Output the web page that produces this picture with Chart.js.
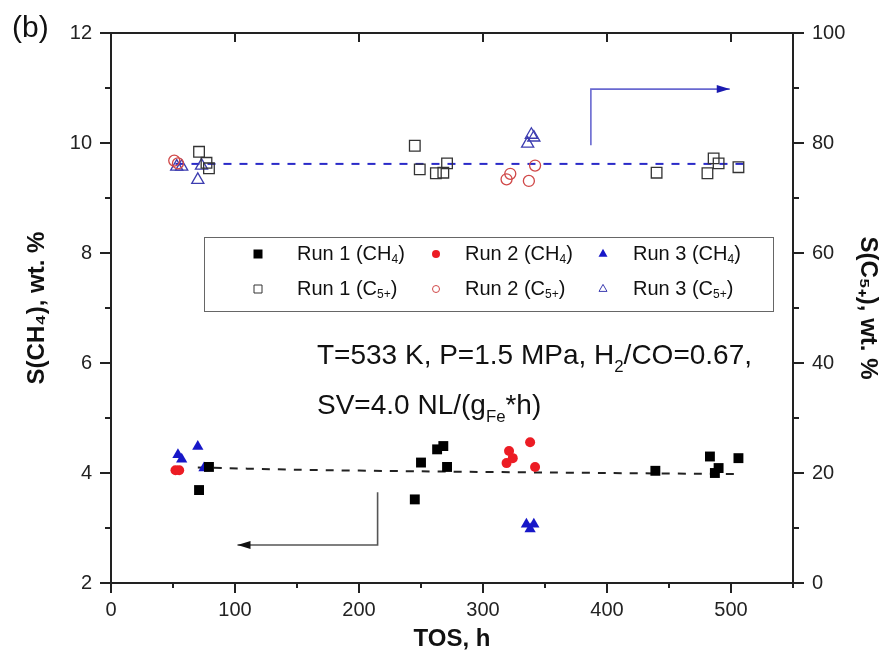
<!DOCTYPE html>
<html>
<head>
<meta charset="utf-8">
<script src="https://cdn.jsdelivr.net/npm/chart.js@4.4.1/dist/chart.umd.min.js"></script>
<style>
  body { margin: 0; background: #fff; }
</style>
</head>
<body>
<canvas id="chart" width="890" height="669"></canvas>
<script>
const FONT = '"Liberation Sans", Arial, sans-serif';

// TOS (h) and selectivity
// CH4 selectivity, wt.% (left axis)
const run1ChTos = [71, 79, 245, 250, 263, 268, 271, 439, 483, 487, 490, 506];
const run1Ch4   = [3.69, 4.11, 3.52, 4.19, 4.43, 4.49, 4.11, 4.04, 4.30, 4.00, 4.09, 4.27];
const run2ChTos = [52, 55, 319, 321, 324, 338, 342];
const run2Ch4   = [4.05, 4.05, 4.18, 4.40, 4.27, 4.56, 4.11];
const run3ChTos = [54, 57, 70, 75, 335, 338, 341];
const run3Ch4   = [4.33, 4.25, 4.48, 4.09, 3.07, 2.98, 3.07];

// C5+ selectivity, wt.% (right axis)
const run1C5Tos = [71, 77, 79, 245, 249, 262, 268, 271, 440, 481, 486, 490, 506];
const run1C5    = [78.4, 76.4, 75.4, 79.5, 75.2, 74.5, 74.6, 76.3, 74.6, 74.5, 77.2, 76.3, 75.6];
const run2C5Tos = [51, 54, 319, 322, 337, 342];
const run2C5    = [76.8, 76.3, 73.4, 74.4, 73.1, 75.9];
const run3C5Tos = [53, 57, 70, 73, 336, 339, 341];
const run3C5    = [75.7, 75.7, 73.3, 75.9, 79.9, 81.5, 81.0];

// dashed trend lines
const ch4FitTos = [70, 150, 250, 400, 505];
const ch4Fit    = [4.10, 4.06, 4.03, 4.00, 3.98];
const c5FitTos  = [52, 510];
const c5Fit     = [76.2, 76.2];

const pts = (xs, ys) => xs.map((x, i) => ({ x: x, y: ys[i] }));

const datasets = [
  { label: 'Run 1 (CH4)', data: pts(run1ChTos, run1Ch4), yAxisID: 'y',
    pointStyle: 'rect', pointRadius: 7, backgroundColor: '#000', borderColor: '#000', borderWidth: 0 },
  { label: 'Run 2 (CH4)', data: pts(run2ChTos, run2Ch4), yAxisID: 'y',
    pointStyle: 'circle', pointRadius: 5, backgroundColor: '#ec1c24', borderColor: '#ec1c24', borderWidth: 0 },
  { label: 'Run 3 (CH4)', data: pts(run3ChTos, run3Ch4), yAxisID: 'y',
    pointStyle: 'triangle', pointRadius: 6.5, backgroundColor: '#1717c8', borderColor: '#1717c8', borderWidth: 0 },
  { label: 'Run 1 (C5+)', data: pts(run1C5Tos, run1C5), yAxisID: 'y2',
    pointStyle: 'rect', pointRadius: 7.5, backgroundColor: 'rgba(0,0,0,0)', borderColor: '#333', borderWidth: 1.3 },
  { label: 'Run 2 (C5+)', data: pts(run2C5Tos, run2C5), yAxisID: 'y2',
    pointStyle: 'circle', pointRadius: 5.5, backgroundColor: 'rgba(0,0,0,0)', borderColor: '#d04848', borderWidth: 1.3 },
  { label: 'Run 3 (C5+)', data: pts(run3C5Tos, run3C5), yAxisID: 'y2',
    pointStyle: 'triangle', pointRadius: 7, backgroundColor: 'rgba(0,0,0,0)', borderColor: '#3c3cb0', borderWidth: 1.3 },
  { label: 'fit CH4', data: pts(ch4FitTos, ch4Fit), yAxisID: 'y', showLine: true, tension: 0.3,
    pointRadius: 0, borderColor: '#222', borderWidth: 2, borderDash: [8, 8] },
  { label: 'fit C5', data: pts(c5FitTos, c5Fit), yAxisID: 'y2', showLine: true,
    pointRadius: 0, borderColor: '#2a2ac8', borderWidth: 2, borderDash: [8, 8] }
];

// legend rows: [dataset index, text before subscript, subscript, text after]
const legendItems = [
  [0, 'Run 1 (CH', '4', ')'], [1, 'Run 2 (CH', '4', ')'], [2, 'Run 3 (CH', '4', ')'],
  [3, 'Run 1 (C', '5+', ')'], [4, 'Run 2 (C', '5+', ')'], [5, 'Run 3 (C', '5+', ')']
];

function rich(ctx, parts, x, y, size) {
  parts.forEach(p => {
    const s = p[1] ? size * 0.6 : size;
    ctx.font = s + 'px ' + FONT;
    ctx.fillText(p[0], x, y + (p[1] ? size * 0.3 : 0));
    x += ctx.measureText(p[0]).width;
  });
}

function marker(ctx, style, x, y, r, fill, stroke, lw) {
  ctx.beginPath();
  if (style === 'rect') {
    ctx.rect(x - r, y - r, 2 * r, 2 * r);
  } else if (style === 'circle') {
    ctx.arc(x, y, r, 0, Math.PI * 2);
  } else {
    ctx.moveTo(x, y - r * 1.15);
    ctx.lineTo(x + r, y + r * 0.6);
    ctx.lineTo(x - r, y + r * 0.6);
    ctx.closePath();
  }
  if (fill) { ctx.fillStyle = fill; ctx.fill(); }
  if (stroke) { ctx.strokeStyle = stroke; ctx.lineWidth = lw; ctx.stroke(); }
}

function arrow(ctx, x, y, path, lineColor, headColor) {
  const p = path.map(q => [x.getPixelForValue(q[0]), y.getPixelForValue(q[1])]);
  ctx.strokeStyle = lineColor;
  ctx.lineWidth = 1.6;
  ctx.beginPath();
  ctx.moveTo(p[0][0], p[0][1]);
  p.slice(1).forEach(q => ctx.lineTo(q[0], q[1]));
  ctx.stroke();
  const a = p[p.length - 2], b = p[p.length - 1];
  const ang = Math.atan2(b[1] - a[1], b[0] - a[0]);
  ctx.fillStyle = headColor;
  ctx.beginPath();
  ctx.moveTo(b[0], b[1]);
  ctx.lineTo(b[0] - 13 * Math.cos(ang) - 4 * Math.sin(ang), b[1] - 13 * Math.sin(ang) + 4 * Math.cos(ang));
  ctx.lineTo(b[0] - 13 * Math.cos(ang) + 4 * Math.sin(ang), b[1] - 13 * Math.sin(ang) - 4 * Math.cos(ang));
  ctx.closePath();
  ctx.fill();
}

const extras = {
  id: 'extras',
  afterDraw(chart) {
    const ctx = chart.ctx;
    const a = chart.chartArea;
    const x = chart.scales.x, y = chart.scales.y, y2 = chart.scales.y2;
    const mids = s => s.ticks.slice(1).map((t, i) => (t.value + s.ticks[i].value) / 2);
    ctx.save();
    ctx.strokeStyle = '#222';
    ctx.lineWidth = 2;
    ctx.beginPath();
    ctx.moveTo(a.left, a.top);
    ctx.lineTo(a.right, a.top);
    // top ticks point inward
    x.ticks.forEach(t => {
      const px = x.getPixelForValue(t.value);
      ctx.moveTo(px, a.top); ctx.lineTo(px, a.top + 9);
    });
    // minor ticks
    mids(x).concat([x.ticks[x.ticks.length - 1].value + 50]).forEach(v => {
      const px = x.getPixelForValue(v);
      ctx.moveTo(px, a.bottom); ctx.lineTo(px, a.bottom + 5);
    });
    mids(y).forEach(v => {
      const py = y.getPixelForValue(v);
      ctx.moveTo(a.left - 6, py); ctx.lineTo(a.left, py);
    });
    mids(y2).forEach(v => {
      const py = y2.getPixelForValue(v);
      ctx.moveTo(a.right, py); ctx.lineTo(a.right + 6, py);
    });
    ctx.stroke();

    // panel label
    ctx.fillStyle = '#111';
    ctx.font = '30px ' + FONT;
    ctx.textBaseline = 'alphabetic';
    ctx.fillText('(b)', 12, 37);

    // legend box
    ctx.strokeStyle = '#666';
    ctx.lineWidth = 1;
    ctx.strokeRect(204.5, 237.5, 569, 74);
    const colX = [258, 436, 603], txtX = [297, 465, 633], rowY = [254, 289];
    legendItems.forEach((it, i) => {
      const ds = chart.data.datasets[it[0]];
      const cx = colX[i % 3], cy = rowY[Math.floor(i / 3)];
      const hollow = i >= 3;
      const r = ds.pointStyle === 'circle' ? 4 : 4.5;
      marker(ctx, ds.pointStyle, cx, cy, hollow ? r - 0.5 : r,
             hollow ? null : ds.backgroundColor, hollow ? ds.borderColor : null, 1);
      ctx.fillStyle = '#111';
      ctx.textBaseline = 'middle';
      rich(ctx, [[it[1]], [it[2], true], [it[3]]], txtX[i % 3], cy, 20);
    });

    // conditions
    ctx.textBaseline = 'alphabetic';
    ctx.fillStyle = '#111';
    rich(ctx, [['T=533 K, P=1.5 MPa, H'], ['2', true], ['/CO=0.67,']], 317, 364, 28);
    rich(ctx, [['SV=4.0 NL/(g'], ['Fe', true], ['*h)']], 317, 414, 28);

    // axis arrows (in TOS / left-axis units)
    arrow(ctx, x, y, [[387, 9.96], [387, 10.98], [499, 10.98]], '#6868d0', '#1a1ab0');
    arrow(ctx, x, y, [[215, 3.65], [215, 2.69], [102, 2.69]], '#555', '#111');
    ctx.restore();
  }
};

const tickFont = { family: FONT, size: 20 };
const titleFont = { family: FONT, size: 24, weight: 'bold' };

new Chart(document.getElementById('chart'), {
  type: 'scatter',
  data: { datasets: datasets },
  options: {
    responsive: false,
    animation: false,
    clip: false,
    layout: { padding: { top: 33, left: 0, right: 0, bottom: 0 } },
    plugins: { legend: { display: false }, tooltip: { enabled: false } },
    scales: {
      x: {
        type: 'linear', position: 'bottom', min: 0, max: 550,
        ticks: { stepSize: 100, includeBounds: false, font: tickFont, color: '#222', padding: 5, maxRotation: 0 },
        grid: { drawOnChartArea: false, drawTicks: true, tickLength: 10, color: '#222', lineWidth: 2 },
        border: { color: '#222', width: 2 },
        title: { display: true, text: 'TOS, h', font: titleFont, color: '#111', padding: { top: 0, bottom: 15 } },
        afterFit: s => { s.height = 86; }
      },
      y: {
        type: 'linear', position: 'left', min: 2, max: 12,
        ticks: { stepSize: 2, font: tickFont, color: '#222', padding: 8 },
        grid: { drawOnChartArea: false, drawTicks: true, tickLength: 11, color: '#222', lineWidth: 2 },
        border: { color: '#222', width: 2 },
        title: { display: true, text: 'S(CH₄), wt. %', font: titleFont, color: '#111', padding: { top: 23, bottom: 0 } },
        afterFit: s => { s.width = 111; }
      },
      y2: {
        type: 'linear', position: 'right', min: 0, max: 100,
        ticks: { stepSize: 20, font: tickFont, color: '#222', padding: 8 },
        grid: { drawOnChartArea: false, drawTicks: true, tickLength: 11, color: '#222', lineWidth: 2 },
        border: { color: '#222', width: 2 },
        title: { display: true, text: 'S(C₅₊), wt. %', font: titleFont, color: '#111', padding: { top: 8, bottom: 0 } },
        afterFit: s => { s.width = 97; }
      }
    }
  },
  plugins: [extras]
});
</script>
</body>
</html>
